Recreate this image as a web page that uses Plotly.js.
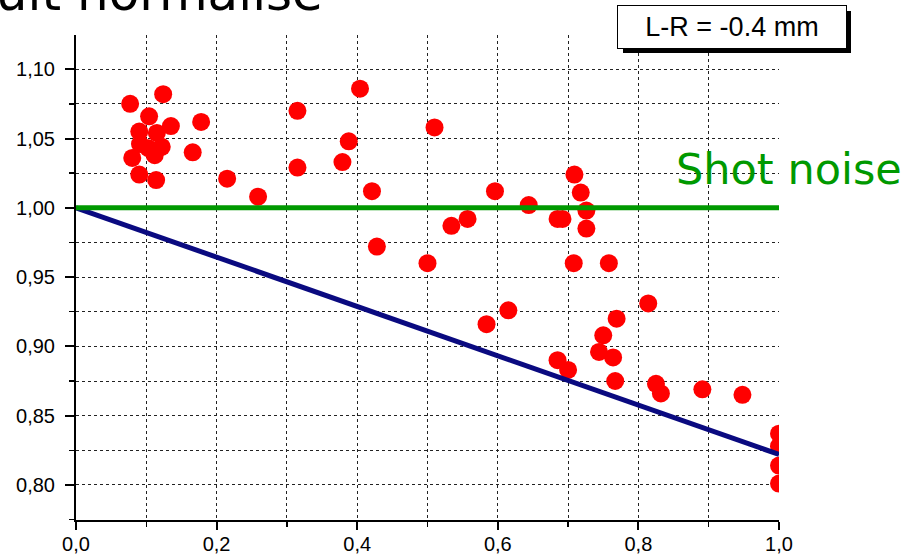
<!DOCTYPE html>
<html>
<head>
<meta charset="utf-8">
<script src="https://cdn.plot.ly/plotly-3.0.1.min.js"></script>
<style>html,body{margin:0;padding:0;background:#fff;} #chart{width:905px;height:557px;}</style>
</head>
<body>
<div id="chart"></div>
<script>
// Measured points (x = fraction, y = normalised noise)
const pointsX = [0.077,0.124,0.104,0.090,0.115,0.135,0.178,0.091,0.103,0.122,0.112,0.080,0.166,0.090,0.114,0.215,0.259,
                 0.315,0.315,0.404,0.388,0.379,0.421,0.428,0.510,0.500,0.534,0.557,0.596,0.644,0.685,0.692,0.709,0.718,0.726,0.726,
                 0.708,0.758,0.584,0.615,0.814,0.769,0.750,0.744,0.764,0.685,0.700,0.767,0.825,0.832,0.891,0.948,
                 1.0,1.0,1.0,1.0];
const pointsY = [1.075,1.082,1.066,1.055,1.054,1.059,1.062,1.046,1.043,1.044,1.038,1.036,1.040,1.024,1.020,1.021,1.008,
                 1.070,1.029,1.086,1.048,1.033,1.012,0.972,1.058,0.960,0.987,0.992,1.012,1.002,0.992,0.992,1.024,1.011,0.998,0.985,
                 0.960,0.960,0.916,0.926,0.931,0.920,0.908,0.896,0.892,0.890,0.883,0.875,0.873,0.866,0.869,0.865,
                 0.837,0.828,0.814,0.801];
// Reference lines
const shotNoiseX = [0, 1];
const shotNoiseY = [1.0, 1.0];
const fitX = [0, 1];
const fitY = [1.0, 0.822];
// Axis ticks
const xTicks = [0, 0.2, 0.4, 0.6, 0.8, 1.0];
const yTicks = [0.80, 0.85, 0.90, 0.95, 1.00, 1.05, 1.10];
const xRange = [0, 1];
const yRange = [0.7747, 1.1247];

const tickFont = {family: 'Liberation Sans, Arial, sans-serif', size: 20, color: '#000'};

const traces = [
  {x: pointsX, y: pointsY, type: 'scatter', mode: 'markers',
   marker: {color: '#ff0000', size: 18, line: {width: 0}}, cliponaxis: true, hoverinfo: 'skip'},
  {x: fitX, y: fitY, type: 'scatter', mode: 'lines',
   line: {color: '#0a0a80', width: 5}, hoverinfo: 'skip'},
  {x: shotNoiseX, y: shotNoiseY, type: 'scatter', mode: 'lines',
   line: {color: '#009900', width: 5}, hoverinfo: 'skip'}
];

const gridStyle = {showgrid: true, gridcolor: '#222', griddash: 'dot', gridwidth: 1};
const px = v => (v - 76) / 703;          // page px -> paper x
const py = v => 1 + (35 - v) / 485;      // page px -> paper y

const layout = {
  width: 905, height: 557,
  margin: {l: 76, r: 126, t: 35, b: 37, pad: 0},
  paper_bgcolor: '#fff', plot_bgcolor: '#fff',
  showlegend: false,
  separators: ', ',
  font: tickFont,
  xaxis: Object.assign({
    range: xRange, tickvals: xTicks, tickformat: '.1f',
    ticks: 'outside', ticklen: 8, tickwidth: 2, tickcolor: '#000',
    showline: true, linecolor: '#000', linewidth: 2, zeroline: false,
    tickfont: tickFont, ticklabelstandoff: -3,
    minor: {dtick: 0.1, tick0: 0, ticks: 'outside', ticklen: 5, tickwidth: 1.5, tickcolor: '#000',
            showgrid: true, gridcolor: '#222', griddash: 'dot', gridwidth: 1}
  }, gridStyle),
  yaxis: Object.assign({
    range: yRange, tickvals: yTicks, tickformat: '.2f',
    ticks: 'outside', ticklen: 9, tickwidth: 2, tickcolor: '#000',
    showline: true, linecolor: '#000', linewidth: 2, zeroline: false,
    tickfont: tickFont, ticklabelstandoff: 6,
    minor: {dtick: 0.025, tick0: 0.8, ticks: 'outside', ticklen: 5, tickwidth: 1.5, tickcolor: '#000',
            showgrid: true, gridcolor: '#222', griddash: 'dot', gridwidth: 1}
  }, gridStyle),
  xaxis2: {
    overlaying: 'x', side: 'top', anchor: 'y', range: xRange, tickvals: xTicks,
    ticks: 'inside', ticklen: 8, tickwidth: 2, tickcolor: '#000', showticklabels: false,
    showline: true, linecolor: '#000', linewidth: 2, showgrid: false, zeroline: false,
    minor: {dtick: 0.1, tick0: 0, ticks: 'inside', ticklen: 5, tickwidth: 1.5, tickcolor: '#000'}
  },
  yaxis2: {
    overlaying: 'y', side: 'right', anchor: 'x', range: yRange, tickvals: yTicks,
    ticks: 'inside', ticklen: 9, tickwidth: 2, tickcolor: '#000', showticklabels: false,
    showline: true, linecolor: '#000', linewidth: 2, showgrid: false, zeroline: false,
    minor: {dtick: 0.025, tick0: 0.8, ticks: 'inside', ticklen: 5, tickwidth: 1.5, tickcolor: '#000'}
  },
  shapes: [
    {type: 'rect', xref: 'paper', yref: 'paper', layer: 'above',
     x0: px(623), x1: px(851), y0: py(53), y1: py(11),
     fillcolor: '#000', line: {width: 0}}
  ],
  annotations: [
    {text: 'Bruit normalisé', xref: 'paper', yref: 'paper', x: px(325), y: py(24),
     xanchor: 'right', yanchor: 'bottom', showarrow: false,
     font: {family: 'DejaVu Sans, Verdana, sans-serif', size: 50, color: '#000'}},
    {text: 'Shot noise', xref: 'paper', yref: 'y', x: px(674), y: 1.0, xanchor: 'left', yanchor: 'bottom',
     yshift: 12, showarrow: false,
     font: {family: 'DejaVu Sans, Verdana, sans-serif', size: 43, color: '#009900'}},
    {text: 'L-R = -0.4 mm', xref: 'paper', yref: 'paper', x: px(617), y: py(5),
     xanchor: 'left', yanchor: 'top', showarrow: false, width: 226, height: 40,
     bgcolor: '#fff', bordercolor: '#000', borderwidth: 1,
     font: {family: 'Liberation Sans, Arial, sans-serif', size: 27, color: '#000'}}
  ]
};

Plotly.newPlot('chart', traces, layout, {displayModeBar: false, staticPlot: true});
</script>
</body>
</html>
